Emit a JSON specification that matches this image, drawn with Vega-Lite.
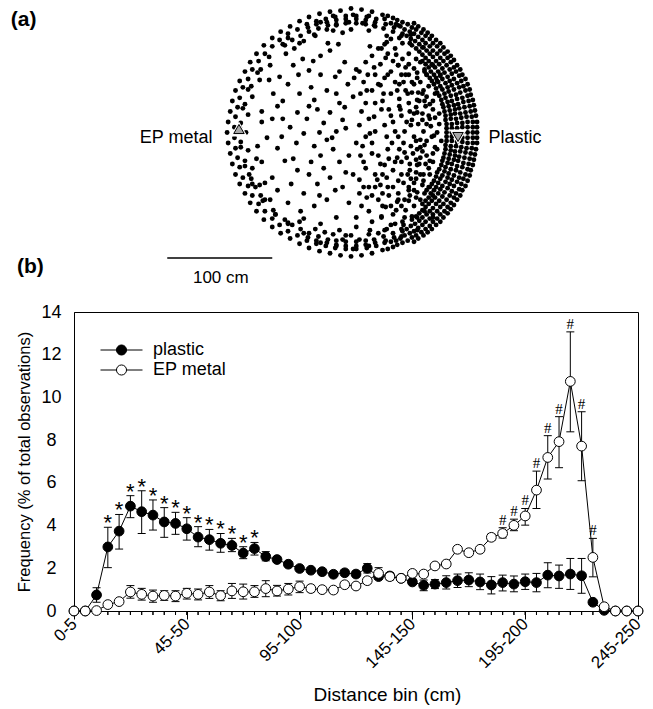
{
"$schema": "https://vega.github.io/schema/vega-lite/v6.json",
"background": "white",
"padding": {"left": 10, "top": 5, "right": 10, "bottom": 5},
"spacing": 22,
"bounds": "flush",
"config": {
  "font": "Liberation Sans",
  "view": {"stroke": "black", "strokeWidth": 1},
  "axis": {"domainColor": "black", "tickColor": "black", "labelColor": "black", "titleColor": "black", "grid": false, "domainWidth": 1, "tickWidth": 1},
  "text": {"color": "black"}
},
"datasets": {
  "tank": [
{"u":116,"v":0},{"u":116,"v":5},{"u":116,"v":-5},{"u":116,"v":10},{"u":116,"v":-10},{"u":115,"v":15},{"u":115,"v":-15},{"u":114,"v":20},{"u":114,"v":-20},{"u":113,"v":25},{"u":113,"v":-25},{"u":112,"v":30},{"u":112,"v":-30},{"u":111,"v":35},{"u":111,"v":-35},{"u":109,"v":40},{"u":109,"v":-40},{"u":107,"v":44},{"u":107,"v":-44},{"u":105,"v":49},{"u":105,"v":-49},{"u":103,"v":54},{"u":103,"v":-54},{"u":100,"v":58},{"u":100,"v":-58},{"u":98,"v":62},{"u":98,"v":-62},{"u":95,"v":67},{"u":95,"v":-67},{"u":92,"v":71},{"u":92,"v":-71},{"u":89,"v":75},{"u":89,"v":-75},{"u":85,"v":78},{"u":85,"v":-78},{"u":82,"v":82},{"u":82,"v":-82},{"u":78,"v":85},{"u":78,"v":-85},{"u":75,"v":89},{"u":75,"v":-89},{"u":71,"v":92},{"u":71,"v":-92},{"u":67,"v":95},{"u":67,"v":-95},{"u":62,"v":98},{"u":62,"v":-98},{"u":58,"v":100},{"u":58,"v":-100},{"u":54,"v":103},{"u":54,"v":-103},{"u":49,"v":105},{"u":49,"v":-105},{"u":44,"v":107},{"u":44,"v":-107},{"u":40,"v":109},{"u":40,"v":-109},{"u":35,"v":111},{"u":35,"v":-111},{"u":30,"v":112},{"u":30,"v":-112},
{"u":120,"v":0},{"u":120,"v":5},{"u":120,"v":-5},{"u":120,"v":10},{"u":120,"v":-10},{"u":119,"v":16},{"u":119,"v":-16},{"u":118,"v":21},{"u":118,"v":-21},{"u":117,"v":26},{"u":117,"v":-26},{"u":116,"v":31},{"u":116,"v":-31},{"u":114,"v":36},{"u":114,"v":-36},{"u":113,"v":41},{"u":113,"v":-41},{"u":111,"v":46},{"u":111,"v":-46},{"u":109,"v":51},{"u":109,"v":-51},{"u":106,"v":55},{"u":106,"v":-55},{"u":104,"v":60},{"u":104,"v":-60},{"u":101,"v":64},{"u":101,"v":-64},{"u":98,"v":69},{"u":98,"v":-69},{"u":95,"v":73},{"u":95,"v":-73},{"u":92,"v":77},{"u":92,"v":-77},{"u":88,"v":81},{"u":88,"v":-81},{"u":85,"v":85},{"u":85,"v":-85},{"u":81,"v":88},{"u":81,"v":-88},{"u":77,"v":92},{"u":77,"v":-92},{"u":73,"v":95},{"u":73,"v":-95},{"u":69,"v":98},{"u":69,"v":-98},{"u":64,"v":101},{"u":64,"v":-101},{"u":60,"v":104},{"u":60,"v":-104},
{"u":111,"v":0},{"u":111,"v":5},{"u":111,"v":-5},{"u":111,"v":10},{"u":111,"v":-10},{"u":110,"v":15},{"u":110,"v":-15},{"u":109,"v":19},{"u":109,"v":-19},{"u":108,"v":24},{"u":108,"v":-24},{"u":107,"v":29},{"u":107,"v":-29},{"u":106,"v":33},{"u":106,"v":-33},{"u":104,"v":38},{"u":104,"v":-38},{"u":103,"v":43},{"u":103,"v":-43},{"u":101,"v":47},{"u":101,"v":-47},{"u":98,"v":51},{"u":98,"v":-51},{"u":96,"v":56},{"u":96,"v":-56},{"u":94,"v":60},{"u":94,"v":-60},{"u":91,"v":64},{"u":91,"v":-64},{"u":88,"v":68},{"u":88,"v":-68},{"u":85,"v":71},{"u":85,"v":-71},{"u":82,"v":75},{"u":82,"v":-75},{"u":78,"v":78},{"u":78,"v":-78},{"u":75,"v":82},{"u":75,"v":-82},{"u":71,"v":85},{"u":71,"v":-85},{"u":68,"v":88},{"u":68,"v":-88},{"u":64,"v":91},{"u":64,"v":-91},{"u":60,"v":94},{"u":60,"v":-94},{"u":56,"v":96},{"u":56,"v":-96},{"u":51,"v":98},{"u":51,"v":-98},{"u":47,"v":101},{"u":47,"v":-101},{"u":43,"v":103},{"u":43,"v":-103},{"u":38,"v":104},{"u":38,"v":-104},
{"u":106,"v":0},{"u":106,"v":5},{"u":106,"v":-5},{"u":106,"v":9},{"u":106,"v":-9},{"u":105,"v":14},{"u":105,"v":-14},{"u":104,"v":18},{"u":104,"v":-18},{"u":103,"v":23},{"u":103,"v":-23},{"u":102,"v":27},{"u":102,"v":-27},{"u":101,"v":32},{"u":101,"v":-32},{"u":100,"v":36},{"u":100,"v":-36},{"u":98,"v":41},{"u":98,"v":-41},{"u":96,"v":45},{"u":96,"v":-45},{"u":94,"v":49},{"u":94,"v":-49},{"u":92,"v":53},{"u":92,"v":-53},{"u":89,"v":57},{"u":89,"v":-57},{"u":87,"v":61},{"u":87,"v":-61},{"u":84,"v":65},{"u":84,"v":-65},{"u":81,"v":68},{"u":81,"v":-68},{"u":78,"v":72},{"u":78,"v":-72},{"u":75,"v":75},{"u":75,"v":-75},{"u":72,"v":78},{"u":72,"v":-78},{"u":68,"v":81},{"u":68,"v":-81},{"u":65,"v":84},{"u":65,"v":-84},{"u":61,"v":87},{"u":61,"v":-87},{"u":57,"v":89},{"u":57,"v":-89},{"u":53,"v":92},{"u":53,"v":-92},{"u":49,"v":94},{"u":49,"v":-94},
{"u":101,"v":0},{"u":101,"v":4},{"u":101,"v":-4},{"u":101,"v":9},{"u":101,"v":-9},{"u":100,"v":13},{"u":100,"v":-13},{"u":99,"v":18},{"u":99,"v":-18},{"u":99,"v":22},{"u":99,"v":-22},{"u":98,"v":26},{"u":98,"v":-26},{"u":96,"v":30},{"u":96,"v":-30},{"u":95,"v":35},{"u":95,"v":-35},{"u":93,"v":39},{"u":93,"v":-39},{"u":92,"v":43},{"u":92,"v":-43},{"u":90,"v":47},{"u":90,"v":-47},{"u":87,"v":51},{"u":87,"v":-51},{"u":85,"v":54},{"u":85,"v":-54},{"u":83,"v":58},{"u":83,"v":-58},{"u":80,"v":62},{"u":80,"v":-62},{"u":77,"v":65},{"u":77,"v":-65},{"u":74,"v":68},{"u":74,"v":-68},{"u":71,"v":71},{"u":71,"v":-71},{"u":68,"v":74},{"u":68,"v":-74},{"u":65,"v":77},{"u":65,"v":-77},{"u":62,"v":80},{"u":62,"v":-80},{"u":58,"v":83},{"u":58,"v":-83},
{"u":96,"v":0},{"u":96,"v":4},{"u":96,"v":-4},{"u":96,"v":8},{"u":96,"v":-8},{"u":95,"v":13},{"u":95,"v":-13},{"u":95,"v":17},{"u":95,"v":-17},{"u":94,"v":21},{"u":94,"v":-21},{"u":93,"v":25},{"u":93,"v":-25},{"u":92,"v":29},{"u":92,"v":-29},{"u":90,"v":33},{"u":90,"v":-33},{"u":89,"v":37},{"u":89,"v":-37},{"u":87,"v":41},{"u":87,"v":-41},{"u":85,"v":44},{"u":85,"v":-44},{"u":83,"v":48},{"u":83,"v":-48},{"u":81,"v":52},{"u":81,"v":-52},{"u":79,"v":55},{"u":79,"v":-55},{"u":76,"v":58},{"u":76,"v":-58},{"u":74,"v":62},{"u":74,"v":-62},{"u":71,"v":65},{"u":71,"v":-65},{"u":68,"v":68},{"u":68,"v":-68},
{"u":91,"v":0},{"u":91,"v":4},{"u":91,"v":-4},{"u":91,"v":8},{"u":91,"v":-8},{"u":90,"v":12},{"u":90,"v":-12},{"u":90,"v":16},{"u":90,"v":-16},{"u":89,"v":20},{"u":89,"v":-20},{"u":88,"v":24},{"u":88,"v":-24},{"u":87,"v":27},{"u":87,"v":-27},{"u":86,"v":31},{"u":86,"v":-31},{"u":84,"v":35},{"u":84,"v":-35},{"u":82,"v":38},{"u":82,"v":-38},{"u":81,"v":42},{"u":81,"v":-42},{"u":79,"v":46},{"u":79,"v":-46},{"u":77,"v":49},{"u":77,"v":-49},{"u":75,"v":52},{"u":75,"v":-52},{"u":72,"v":55},{"u":72,"v":-55},{"u":70,"v":58},{"u":70,"v":-58},
{"u":84,"v":8},{"u":79,"v":-3},{"u":74,"v":16},{"u":70,"v":-12},{"u":78,"v":22},{"u":72,"v":34},{"u":62,"v":24},{"u":58,"v":12},{"u":60,"v":-4},{"u":66,"v":-24},{"u":74,"v":-34},{"u":62,"v":-38},{"u":56,"v":-30},{"u":50,"v":-10},{"u":52,"v":40},{"u":58,"v":48},{"u":66,"v":48},{"u":74,"v":44},{"u":60,"v":-48},{"u":68,"v":-50},{"u":48,"v":-40},{"u":44,"v":-24},{"u":40,"v":10},{"u":46,"v":32},{"u":86,"v":-8},{"u":84,"v":18},{"u":78,"v":-20},{"u":70,"v":30},{"u":64,"v":8},{"u":56,"v":20},
{"u":20,"v":115},{"u":10,"v":117},{"u":0,"v":118},{"u":-10,"v":116},{"u":-20,"v":115},{"u":-30,"v":113},{"u":-40,"v":110},{"u":-49,"v":106},{"u":-58,"v":101},{"u":-67,"v":96},{"u":-75,"v":90},{"u":-83,"v":83},{"u":-90,"v":75},{"u":-96,"v":67},{"u":-101,"v":58},{"u":-106,"v":49},{"u":-110,"v":40},{"u":-113,"v":30},{"u":-115,"v":20},{"u":-117,"v":10},{"u":-118,"v":0},{"u":-117,"v":-10},{"u":-115,"v":-20},{"u":-113,"v":-30},{"u":-110,"v":-40},{"u":-106,"v":-49},{"u":-101,"v":-58},{"u":-96,"v":-67},{"u":-90,"v":-75},{"u":-83,"v":-83},{"u":-75,"v":-90},{"u":-67,"v":-96},{"u":-58,"v":-101},{"u":-49,"v":-106},{"u":-40,"v":-110},{"u":-30,"v":-113},{"u":-20,"v":-115},{"u":-10,"v":-117},{"u":0,"v":-118},{"u":10,"v":-117},{"u":20,"v":-115},
{"u":24,"v":108},{"u":15,"v":110},{"u":5,"v":111},{"u":-5,"v":111},{"u":-15,"v":110},{"u":-24,"v":108},{"u":-33,"v":106},{"u":-42,"v":103},{"u":-51,"v":98},{"u":-60,"v":94},{"u":-68,"v":88},{"u":-75,"v":82},{"u":-82,"v":75},{"u":-88,"v":68},{"u":-94,"v":60},{"u":-98,"v":51},{"u":-103,"v":43},{"u":-106,"v":33},{"u":-108,"v":24},{"u":-110,"v":15},{"u":-111,"v":5},{"u":-111,"v":-5},{"u":-110,"v":-15},{"u":-108,"v":-24},{"u":-106,"v":-33},{"u":-103,"v":-43},{"u":-98,"v":-51},{"u":-94,"v":-60},{"u":-88,"v":-68},{"u":-82,"v":-75},{"u":-75,"v":-82},{"u":-68,"v":-88},{"u":-60,"v":-94},{"u":-51,"v":-98},{"u":-42,"v":-103},{"u":-33,"v":-106},{"u":-24,"v":-108},{"u":-15,"v":-110},{"u":-5,"v":-111},{"u":5,"v":-111},{"u":15,"v":-110},{"u":24,"v":-108},
{"u":41,"v":100},{"u":33,"v":103},{"u":23,"v":105},{"u":14,"v":107},{"u":5,"v":108},{"u":-5,"v":108},{"u":-14,"v":107},{"u":-23,"v":105},{"u":-33,"v":103},{"u":-41,"v":100},
{"u":41,"v":-100},{"u":33,"v":-103},{"u":23,"v":-105},{"u":14,"v":-107},{"u":5,"v":-108},{"u":-5,"v":-108},{"u":-14,"v":-107},{"u":-23,"v":-105},{"u":-33,"v":-103},{"u":-41,"v":-100},
{"u":48,"v":92},{"u":40,"v":96},{"u":31,"v":99},{"u":22,"v":102},{"u":14,"v":103},{"u":5,"v":104},{"u":-5,"v":104},{"u":-14,"v":103},{"u":-22,"v":102},{"u":-31,"v":99},{"u":-40,"v":96},{"u":-48,"v":92},{"u":-56,"v":88},{"u":-63,"v":83},
{"u":48,"v":-92},{"u":40,"v":-96},{"u":31,"v":-99},{"u":22,"v":-102},{"u":14,"v":-103},{"u":5,"v":-104},{"u":-5,"v":-104},{"u":-14,"v":-103},{"u":-22,"v":-102},{"u":-31,"v":-99},{"u":-40,"v":-96},{"u":-48,"v":-92},{"u":-56,"v":-88},{"u":-63,"v":-83},
{"u":49,"v":85},{"u":34,"v":92},{"u":17,"v":97},{"u":0,"v":98},{"u":-17,"v":97},{"u":-34,"v":92},{"u":-49,"v":85},
{"u":49,"v":-85},{"u":34,"v":-92},{"u":17,"v":-97},{"u":0,"v":-98},{"u":-17,"v":-97},{"u":-34,"v":-92},{"u":-49,"v":-85},
{"u":-65,"v":84},{"u":-78,"v":72},{"u":-89,"v":57},{"u":-98,"v":41},{"u":-103,"v":23},{"u":-106,"v":5},{"u":-105,"v":-14},{"u":-101,"v":-32},{"u":-94,"v":-49},{"u":-84,"v":-65},{"u":-72,"v":-78},
{"u":-77,"v":64},{"u":-87,"v":50},{"u":-94,"v":34},{"u":-98,"v":17},{"u":-100,"v":0},{"u":-98,"v":-17},{"u":-94,"v":-34},{"u":-87,"v":-50},{"u":-77,"v":-64},{"u":-86,"v":60},{"u":-95,"v":44},{"u":-101,"v":27},{"u":-105,"v":9},{"u":-105,"v":-9},{"u":-101,"v":-27},{"u":-95,"v":-44},{"u":-86,"v":-60},{"u":-74,"v":-74},{"u":-60,"v":-86},
{"u":55,"v":65},{"u":43,"v":74},{"u":29,"v":80},{"u":55,"v":55},{"u":45,"v":64},{"u":33,"v":71},{"u":55,"v":-65},{"u":43,"v":-74},{"u":29,"v":-80},{"u":55,"v":-55},{"u":45,"v":-64},{"u":33,"v":-71},{"u":63,"v":57},{"u":63,"v":-57},{"u":82,"v":0},{"u":76,"v":6},{"u":72,"v":-8},{"u":80,"v":14},{"u":80,"v":-14},{"u":75,"v":27},{"u":75,"v":-27},{"u":69,"v":40},{"u":69,"v":-40},{"u":68,"v":18},{"u":68,"v":-18},{"u":65,"v":30},{"u":65,"v":-30},
{"u":-55,"v":64},{"u":-46,"v":70},{"u":-40,"v":59},{"u":-29,"v":73},{"u":-20,"v":78},{"u":-12,"v":84},{"u":-6,"v":67},{"u":-15,"v":53},{"u":-11,"v":58},{"u":-29,"v":55},{"u":-38,"v":43},{"u":-60,"v":46},{"u":-68,"v":53},{"u":-78,"v":50},{"u":-74,"v":37},{"u":-65,"v":30},{"u":-49,"v":37},{"u":-35,"v":31},{"u":-23,"v":40},{"u":-14,"v":37},{"u":-3,"v":46},{"u":3,"v":52},{"u":8,"v":58},{"u":14,"v":67},{"u":20,"v":73},{"u":26,"v":80},{"u":32,"v":84},{"u":38,"v":89},
{"u":-75,"v":13},{"u":-65,"v":13},{"u":-51,"v":19},{"u":-42,"v":13},{"u":-32,"v":22},{"u":-26,"v":9},{"u":-20,"v":19},{"u":-11,"v":28},{"u":-6,"v":24},{"u":2,"v":34},{"u":9,"v":37},{"u":14,"v":28},{"u":20,"v":40},{"u":26,"v":46},{"u":32,"v":52},{"u":38,"v":58},{"u":45,"v":64},{"u":49,"v":70},
{"u":-89,"v":-13},{"u":-66,"v":-4},{"u":-45,"v":-1},{"u":-35,"v":-13},{"u":-23,"v":-7},{"u":-17,"v":-16},{"u":-29,"v":-22},{"u":-14,"v":1},{"u":-5,"v":4},{"u":8,"v":7},{"u":17,"v":13},{"u":23,"v":1},{"u":32,"v":7},{"u":38,"v":16},{"u":46,"v":25},{"u":54,"v":37},{"u":60,"v":46},
{"u":-85,"v":-28},{"u":-63,"v":-27},{"u":-51,"v":-36},{"u":-38,"v":-28},{"u":-26,"v":-34},{"u":-11,"v":-28},{"u":-2,"v":-22},{"u":11,"v":-13},{"u":20,"v":-10},{"u":26,"v":-22},{"u":35,"v":-16},{"u":45,"v":-4},{"u":51,"v":1},{"u":57,"v":7},{"u":63,"v":19},
{"u":-75,"v":-43},{"u":-57,"v":-49},{"u":-45,"v":-58},{"u":-32,"v":-49},{"u":-20,"v":-43},{"u":-8,"v":-52},{"u":2,"v":-40},{"u":14,"v":-34},{"u":23,"v":-40},{"u":32,"v":-31},{"u":42,"v":-28},{"u":51,"v":-19},{"u":57,"v":-13},{"u":66,"v":-7},
{"u":-60,"v":-67},{"u":-48,"v":-75},{"u":-35,"v":-70},{"u":-23,"v":-64},{"u":-14,"v":-81},{"u":-2,"v":-67},{"u":8,"v":-58},{"u":17,"v":-52},{"u":26,"v":-64},{"u":35,"v":-52},{"u":45,"v":-46},{"u":54,"v":-40},{"u":63,"v":-31},
{"u":-29,"v":-87},{"u":-11,"v":-93},{"u":5,"v":-81},{"u":17,"v":-75},{"u":29,"v":-81},{"u":38,"v":-70},{"u":51,"v":-64},{"u":60,"v":-55},{"u":69,"v":-46},
{"u":23,"v":55},{"u":31,"v":37},{"u":38,"v":37},{"u":46,"v":46},{"u":52,"v":55},{"u":60,"v":61},{"u":66,"v":67},{"u":72,"v":55},{"u":68,"v":37},{"u":63,"v":31},{"u":71,"v":25},{"u":75,"v":13},{"u":69,"v":1},{"u":77,"v":-4},{"u":63,"v":-16},{"u":72,"v":-22},{"u":78,"v":-28},{"u":66,"v":-40},{"u":74,"v":-52},{"u":60,"v":-70},{"u":51,"v":-81},{"u":42,"v":-87},{"u":66,"v":-64},{"u":75,"v":-40},{"u":82,"v":-16},{"u":80,"v":37},{"u":82,"v":49},{"u":63,"v":52},{"u":55,"v":28},{"u":48,"v":16},{"u":42,"v":1},{"u":34,"v":-4},{"u":29,"v":22},{"u":23,"v":28},{"u":18,"v":-1},{"u":14,"v":-4},{"u":9,"v":-22},{"u":23,"v":-52},{"u":34,"v":-43},{"u":45,"v":-58},{"u":55,"v":-52},{"u":63,"v":-81},{"u":32,"v":-93},{"u":18,"v":-93},
{"u":-35,"v":93},{"u":-23,"v":98},{"u":-14,"v":102},{"u":-2,"v":105},{"u":11,"v":104},{"u":23,"v":101},{"u":-45,"v":87},{"u":-54,"v":80},{"u":-60,"v":90},{"u":-29,"v":105},{"u":-17,"v":111},{"u":2,"v":112},{"u":17,"v":111},{"u":32,"v":108},{"u":45,"v":102},{"u":57,"v":93},{"u":69,"v":81},
{"u":-45,"v":-96},{"u":-29,"v":-105},{"u":-14,"v":-108},{"u":2,"v":-111},{"u":17,"v":-108},{"u":32,"v":-105},{"u":48,"v":-99},{"u":63,"v":-93},{"u":78,"v":-81},{"u":-60,"v":-87},{"u":-72,"v":-78},{"u":-82,"v":-64},{"u":-91,"v":-52},{"u":-97,"v":-40},
{"u":-85,"v":20},{"u":-80,"v":-5},{"u":-70,"v":-15},{"u":-58,"v":5},{"u":-52,"v":-10},{"u":-40,"v":25},{"u":-30,"v":0},{"u":-18,"v":-5},{"u":-8,"v":12},{"u":-70,"v":-55},{"u":-55,"v":-25},{"u":-40,"v":-40},{"u":-30,"v":-60},{"u":-15,"v":-55},{"u":-5,"v":-38},{"u":-62,"v":75},{"u":-50,"v":55},{"u":-36,"v":68},{"u":-22,"v":85},{"u":-8,"v":95},{"u":-90,"v":-25},{"u":-82,"v":-48},{"u":-70,"v":25},{"u":-45,"v":-82},{"u":-25,"v":-95},{"u":-5,"v":-98},{"u":-85,"v":10},
{"u":5,"v":60},{"u":12,"v":48},{"u":18,"v":82},{"u":28,"v":65},{"u":35,"v":75},{"u":42,"v":80},{"u":48,"v":55},{"u":55,"v":75},{"u":62,"v":70},{"u":10,"v":20},{"u":15,"v":40},{"u":22,"v":15},{"u":30,"v":30},{"u":36,"v":22},{"u":44,"v":40},{"u":50,"v":48},{"u":5,"v":-10},{"u":12,"v":-28},{"u":20,"v":-20},{"u":28,"v":-30},{"u":36,"v":-25},{"u":40,"v":-36},{"u":48,"v":-28},{"u":56,"v":-36},{"u":62,"v":-44},{"u":8,"v":-45},{"u":15,"v":-62},{"u":25,"v":-45},{"u":30,"v":-58},{"u":40,"v":-52},{"u":48,"v":-70},{"u":56,"v":-60},{"u":62,"v":-62},{"u":20,"v":-85},{"u":30,"v":-70},{"u":40,"v":-78},{"u":50,"v":-88},{"u":10,"v":-70},{"u":5,"v":-90},{"u":70,"v":-75},{"u":78,"v":-60},{"u":70,"v":60},{"u":78,"v":64},{"u":85,"v":55},
{"u":35,"v":55},{"u":42,"v":48},{"u":28,"v":45},{"u":22,"v":62},{"u":16,"v":55},{"u":40,"v":68},{"u":52,"v":62},{"u":58,"v":38},{"u":64,"v":38},{"u":47,"v":22},{"u":53,"v":10},{"u":60,"v":18},{"u":39,"v":-10},{"u":46,"v":-16},{"u":53,"v":-24},{"u":59,"v":-20},{"u":66,"v":-14},{"u":71,"v":-30},{"u":62,"v":-26},{"u":50,"v":-48},{"u":57,"v":-44},{"u":44,"v":-66},{"u":36,"v":-60},{"u":28,"v":-50},{"u":20,"v":-60},{"u":12,"v":-52},{"u":52,"v":-74},{"u":58,"v":-80},{"u":38,"v":-88},{"u":26,"v":-96},{"u":8,"v":-102},{"u":-8,"v":-102},{"u":30,"v":-40},{"u":68,"v":12},{"u":62,"v":-8},{"u":72,"v":8},{"u":78,"v":30},{"u":56,"v":85},{"u":46,"v":90},{"u":34,"v":86}
  ],
  "markers": [
    {"name": "EP metal", "u": -106.7, "v": 3.3},
    {"name": "Plastic", "u": 101.9, "v": -4.3}
  ],
  "freq": [
{"d":0,"s":"plastic","v":0,"lo":0,"hi":0,"m":""},
{"d":5,"s":"plastic","v":0,"lo":0,"hi":0,"m":""},
{"d":10,"s":"plastic","v":0.75,"lo":0.41,"hi":1.09,"m":""},
{"d":15,"s":"plastic","v":3.0,"lo":2.03,"hi":3.92,"m":"*"},
{"d":20,"s":"plastic","v":3.74,"lo":2.9,"hi":4.52,"m":"*"},
{"d":25,"s":"plastic","v":4.91,"lo":4.37,"hi":5.4,"m":"*"},
{"d":30,"s":"plastic","v":4.65,"lo":3.63,"hi":5.63,"m":"*"},
{"d":35,"s":"plastic","v":4.49,"lo":3.79,"hi":5.2,"m":"*"},
{"d":40,"s":"plastic","v":4.17,"lo":3.45,"hi":4.84,"m":"*"},
{"d":45,"s":"plastic","v":4.1,"lo":3.59,"hi":4.62,"m":"*"},
{"d":50,"s":"plastic","v":3.85,"lo":3.32,"hi":4.37,"m":"*"},
{"d":55,"s":"plastic","v":3.46,"lo":3.01,"hi":3.95,"m":"*"},
{"d":60,"s":"plastic","v":3.34,"lo":2.85,"hi":3.82,"m":"*"},
{"d":65,"s":"plastic","v":3.17,"lo":2.75,"hi":3.63,"m":"*"},
{"d":70,"s":"plastic","v":3.07,"lo":2.78,"hi":3.4,"m":"*"},
{"d":75,"s":"plastic","v":2.71,"lo":2.45,"hi":3.01,"m":"*"},
{"d":80,"s":"plastic","v":2.92,"lo":2.62,"hi":3.21,"m":"*"},
{"d":85,"s":"plastic","v":2.55,"lo":2.35,"hi":2.78,"m":""},
{"d":90,"s":"plastic","v":2.41,"lo":2.28,"hi":2.55,"m":""},
{"d":95,"s":"plastic","v":2.19,"lo":2.08,"hi":2.3,"m":""},
{"d":100,"s":"plastic","v":1.99,"lo":1.88,"hi":2.1,"m":""},
{"d":105,"s":"plastic","v":1.91,"lo":1.8,"hi":2.02,"m":""},
{"d":110,"s":"plastic","v":1.84,"lo":1.74,"hi":1.95,"m":""},
{"d":115,"s":"plastic","v":1.72,"lo":1.62,"hi":1.82,"m":""},
{"d":120,"s":"plastic","v":1.79,"lo":1.68,"hi":1.9,"m":""},
{"d":125,"s":"plastic","v":1.73,"lo":1.6,"hi":1.86,"m":""},
{"d":130,"s":"plastic","v":2.0,"lo":1.78,"hi":2.22,"m":""},
{"d":135,"s":"plastic","v":1.61,"lo":1.48,"hi":1.75,"m":""},
{"d":140,"s":"plastic","v":1.64,"lo":1.5,"hi":1.78,"m":""},
{"d":145,"s":"plastic","v":1.53,"lo":1.42,"hi":1.64,"m":""},
{"d":150,"s":"plastic","v":1.36,"lo":1.25,"hi":1.48,"m":""},
{"d":155,"s":"plastic","v":1.2,"lo":0.95,"hi":1.45,"m":""},
{"d":160,"s":"plastic","v":1.26,"lo":1.05,"hi":1.47,"m":""},
{"d":165,"s":"plastic","v":1.33,"lo":1.03,"hi":1.65,"m":""},
{"d":170,"s":"plastic","v":1.42,"lo":1.1,"hi":1.73,"m":""},
{"d":175,"s":"plastic","v":1.45,"lo":1.14,"hi":1.79,"m":""},
{"d":180,"s":"plastic","v":1.36,"lo":1.0,"hi":1.73,"m":""},
{"d":185,"s":"plastic","v":1.22,"lo":0.8,"hi":1.61,"m":""},
{"d":190,"s":"plastic","v":1.33,"lo":0.94,"hi":1.68,"m":""},
{"d":195,"s":"plastic","v":1.26,"lo":0.9,"hi":1.64,"m":""},
{"d":200,"s":"plastic","v":1.37,"lo":1.01,"hi":1.73,"m":""},
{"d":205,"s":"plastic","v":1.33,"lo":0.9,"hi":1.76,"m":""},
{"d":210,"s":"plastic","v":1.68,"lo":1.09,"hi":2.26,"m":""},
{"d":215,"s":"plastic","v":1.64,"lo":1.06,"hi":2.15,"m":""},
{"d":220,"s":"plastic","v":1.73,"lo":1.01,"hi":2.46,"m":""},
{"d":225,"s":"plastic","v":1.65,"lo":0.83,"hi":2.46,"m":""},
{"d":230,"s":"plastic","v":0.41,"lo":0.3,"hi":0.5,"m":""},
{"d":235,"s":"plastic","v":0.03,"lo":0.03,"hi":0.03,"m":""},
{"d":240,"s":"plastic","v":0,"lo":0,"hi":0,"m":""},
{"d":245,"s":"plastic","v":0,"lo":0,"hi":0,"m":""},
{"d":250,"s":"plastic","v":0,"lo":0,"hi":0,"m":""},
{"d":0,"s":"EP metal","v":0,"lo":0,"hi":0,"m":""},
{"d":5,"s":"EP metal","v":0,"lo":0,"hi":0,"m":""},
{"d":10,"s":"EP metal","v":0.02,"lo":0.02,"hi":0.02,"m":""},
{"d":15,"s":"EP metal","v":0.3,"lo":0.3,"hi":0.3,"m":""},
{"d":20,"s":"EP metal","v":0.44,"lo":0.44,"hi":0.44,"m":""},
{"d":25,"s":"EP metal","v":0.89,"lo":0.6,"hi":1.19,"m":""},
{"d":30,"s":"EP metal","v":0.78,"lo":0.51,"hi":1.06,"m":""},
{"d":35,"s":"EP metal","v":0.7,"lo":0.41,"hi":0.98,"m":""},
{"d":40,"s":"EP metal","v":0.73,"lo":0.5,"hi":0.95,"m":""},
{"d":45,"s":"EP metal","v":0.7,"lo":0.44,"hi":0.95,"m":""},
{"d":50,"s":"EP metal","v":0.83,"lo":0.56,"hi":1.06,"m":""},
{"d":55,"s":"EP metal","v":0.78,"lo":0.52,"hi":1.03,"m":""},
{"d":60,"s":"EP metal","v":0.89,"lo":0.59,"hi":1.19,"m":""},
{"d":65,"s":"EP metal","v":0.72,"lo":0.48,"hi":0.95,"m":""},
{"d":70,"s":"EP metal","v":0.94,"lo":0.59,"hi":1.29,"m":""},
{"d":75,"s":"EP metal","v":0.9,"lo":0.56,"hi":1.26,"m":""},
{"d":80,"s":"EP metal","v":0.9,"lo":0.64,"hi":1.19,"m":""},
{"d":85,"s":"EP metal","v":1.05,"lo":0.67,"hi":1.42,"m":""},
{"d":90,"s":"EP metal","v":0.94,"lo":0.7,"hi":1.2,"m":""},
{"d":95,"s":"EP metal","v":1.03,"lo":0.75,"hi":1.29,"m":""},
{"d":100,"s":"EP metal","v":1.14,"lo":0.86,"hi":1.4,"m":""},
{"d":105,"s":"EP metal","v":1.05,"lo":0.9,"hi":1.2,"m":""},
{"d":110,"s":"EP metal","v":1.0,"lo":0.88,"hi":1.12,"m":""},
{"d":115,"s":"EP metal","v":0.98,"lo":0.85,"hi":1.1,"m":""},
{"d":120,"s":"EP metal","v":1.23,"lo":1.1,"hi":1.36,"m":""},
{"d":125,"s":"EP metal","v":1.17,"lo":1.05,"hi":1.3,"m":""},
{"d":130,"s":"EP metal","v":1.42,"lo":1.28,"hi":1.55,"m":""},
{"d":135,"s":"EP metal","v":1.76,"lo":1.5,"hi":2.03,"m":""},
{"d":140,"s":"EP metal","v":1.61,"lo":1.45,"hi":1.78,"m":""},
{"d":145,"s":"EP metal","v":1.53,"lo":1.42,"hi":1.64,"m":""},
{"d":150,"s":"EP metal","v":1.76,"lo":1.65,"hi":1.88,"m":""},
{"d":155,"s":"EP metal","v":1.73,"lo":1.6,"hi":1.86,"m":""},
{"d":160,"s":"EP metal","v":2.11,"lo":2.0,"hi":2.22,"m":""},
{"d":165,"s":"EP metal","v":2.2,"lo":2.08,"hi":2.32,"m":""},
{"d":170,"s":"EP metal","v":2.89,"lo":2.78,"hi":3.0,"m":""},
{"d":175,"s":"EP metal","v":2.73,"lo":2.62,"hi":2.84,"m":""},
{"d":180,"s":"EP metal","v":2.89,"lo":2.75,"hi":3.02,"m":""},
{"d":185,"s":"EP metal","v":3.45,"lo":3.3,"hi":3.6,"m":""},
{"d":190,"s":"EP metal","v":3.63,"lo":3.42,"hi":3.9,"m":"#"},
{"d":195,"s":"EP metal","v":4.01,"lo":3.76,"hi":4.3,"m":"#"},
{"d":200,"s":"EP metal","v":4.45,"lo":4.02,"hi":4.8,"m":"#"},
{"d":205,"s":"EP metal","v":5.66,"lo":4.8,"hi":6.55,"m":"#"},
{"d":210,"s":"EP metal","v":7.19,"lo":6.18,"hi":8.21,"m":"#"},
{"d":215,"s":"EP metal","v":7.93,"lo":6.71,"hi":9.1,"m":"#"},
{"d":220,"s":"EP metal","v":10.75,"lo":8.39,"hi":13.07,"m":"#"},
{"d":225,"s":"EP metal","v":7.72,"lo":6.1,"hi":9.33,"m":"#"},
{"d":230,"s":"EP metal","v":2.51,"lo":1.6,"hi":3.4,"m":"#"},
{"d":235,"s":"EP metal","v":0.2,"lo":0.2,"hi":0.2,"m":""},
{"d":240,"s":"EP metal","v":0,"lo":0,"hi":0,"m":""},
{"d":245,"s":"EP metal","v":0,"lo":0,"hi":0,"m":""},
{"d":250,"s":"EP metal","v":0,"lo":0,"hi":0,"m":""}
  ]
},
"vconcat": [
  {
    "width": 564,
    "height": 285,
    "view": {"stroke": null},
    "layer": [
      {
        "data": {"name": "tank"},
        "mark": {"type": "circle", "size": 24, "color": "black", "opacity": 1},
        "encoding": {
          "x": {"field": "u", "type": "quantitative", "scale": {"domain": [-263.8, 273.3], "nice": false, "zero": false}, "axis": null},
          "y": {"field": "v", "type": "quantitative", "scale": {"domain": [-150, 121.4], "nice": false, "zero": false}, "axis": null}
        }
      },
      {
        "data": {"name": "markers"},
        "mark": {"type": "point", "filled": true, "color": "white", "size": 300, "opacity": 1},
        "encoding": {
          "x": {"field": "u", "type": "quantitative"},
          "y": {"field": "v", "type": "quantitative"},
          "shape": {"field": "name", "type": "nominal", "scale": {"domain": ["EP metal", "Plastic"], "range": ["triangle-up", "triangle-down"]}, "legend": null}
        }
      },
      {
        "data": {"name": "markers"},
        "mark": {"type": "point", "filled": true, "fill": "#a8a8a8", "stroke": "black", "strokeWidth": 1, "size": 110, "opacity": 1},
        "encoding": {
          "x": {"field": "u", "type": "quantitative"},
          "y": {"field": "v", "type": "quantitative"},
          "shape": {"field": "name", "type": "nominal", "scale": {"domain": ["EP metal", "Plastic"], "range": ["triangle-up", "triangle-down"]}, "legend": null}
        }
      },
      {
        "data": {"values": [{}]},
        "mark": {"type": "rule", "color": "black", "strokeWidth": 1.5},
        "encoding": {"x": {"datum": -175}, "x2": {"datum": -75}, "y": {"datum": -119.5}}
      },
      {
        "data": {"values": [{}]},
        "mark": {"type": "text", "text": "100 cm", "fontSize": 17, "align": "center", "baseline": "middle"},
        "encoding": {"x": {"datum": -124}, "y": {"datum": -138.6}}
      },
      {
        "data": {"values": [{}]},
        "mark": {"type": "text", "text": "EP metal", "fontSize": 18, "align": "right", "baseline": "middle"},
        "encoding": {"x": {"datum": -132}, "y": {"datum": -5.2}}
      },
      {
        "data": {"values": [{}]},
        "mark": {"type": "text", "text": "Plastic", "fontSize": 18, "align": "left", "baseline": "middle"},
        "encoding": {"x": {"datum": 131}, "y": {"datum": -5.2}}
      },
      {
        "data": {"values": [{}]},
        "mark": {"type": "text", "text": "(a)", "fontSize": 21, "fontWeight": "bold", "align": "left", "baseline": "middle"},
        "encoding": {"x": {"datum": -324}, "y": {"datum": 107}}
      }
    ]
  },
  {
    "width": 564,
    "height": 299,
    "title": {"text": "(b)", "anchor": "start", "frame": "bounds", "fontSize": 21, "fontWeight": "bold", "offset": 26, "color": "black"},
    "data": {"name": "freq"},
    "layer": [
      {
        "mark": {"type": "rule", "color": "black", "strokeWidth": 1},
        "encoding": {
          "x": {"field": "d", "type": "quantitative", "scale": {"domain": [0, 250], "nice": false, "zero": false},
            "axis": {
              "values": [0, 50, 100, 150, 200, 250],
              "labelExpr": "datum.value === 0 ? '0-5' : (datum.value - 5) + '-' + datum.value",
              "tickSize": 8,
              "labelAngle": -45, "labelAlign": "right", "labelBaseline": "middle", "labelFontSize": 17,
              "labelPadding": 2, "labelOverlap": false, "labelFlush": false, "labelBound": false,
              "title": "Distance bin (cm)", "titleFontSize": 19, "titleFontWeight": "normal",
              "titleX": 313, "titleY": 83, "titleAlign": "center", "titleBaseline": "middle"
            }},
          "y": {"field": "lo", "type": "quantitative", "scale": {"domain": [0, 14], "nice": false},
            "axis": {
              "values": [0,2,4,6,8,10,12,14], "ticks": false, "tickSize": 0, "labelAlign": "center", "labelPadding": 23,
              "labelFontSize": 18, "labelFlush": false,
              "title": "Frequency (% of total observations)", "titleFontSize": 16.5, "titleFontWeight": "normal", "titlePadding": 8
            }},
          "y2": {"field": "hi"}
        }
      },
      {
        "mark": {"type": "tick", "orient": "vertical", "size": 4, "thickness": 1, "color": "black", "opacity": 1, "yOffset": 2},
        "encoding": {"x": {"field": "d", "type": "quantitative"}, "y": {"datum": 0}}
      },
      {
        "mark": {"type": "tick", "orient": "horizontal", "size": 8, "thickness": 1, "color": "black", "opacity": 1},
        "encoding": {"x": {"field": "d", "type": "quantitative"}, "y": {"field": "hi", "type": "quantitative"}}
      },
      {
        "mark": {"type": "tick", "orient": "horizontal", "size": 8, "thickness": 1, "color": "black", "opacity": 1},
        "encoding": {"x": {"field": "d", "type": "quantitative"}, "y": {"field": "lo", "type": "quantitative"}}
      },
      {
        "mark": {"type": "line", "color": "black", "strokeWidth": 1},
        "encoding": {"x": {"field": "d", "type": "quantitative"}, "y": {"field": "v", "type": "quantitative"}, "detail": {"field": "s"}}
      },
      {
        "mark": {"type": "point", "shape": "circle", "size": 95, "filled": true, "stroke": "black", "strokeWidth": 1, "opacity": 1},
        "encoding": {
          "x": {"field": "d", "type": "quantitative"},
          "y": {"field": "v", "type": "quantitative"},
          "fill": {"field": "s", "type": "nominal", "scale": {"domain": ["plastic", "EP metal"], "range": ["black", "white"]},
            "legend": {"title": null, "orient": "none", "legendX": 26, "legendY": 335,
              "symbolType": "M-1,0H-0.24M0.24,0H1M0.24,0A0.24,0.24,0,1,1,-0.24,0A0.24,0.24,0,1,1,0.24,0Z",
              "symbolSize": 1764, "symbolStrokeColor": "black", "symbolStrokeWidth": 1, "symbolOpacity": 1,
              "labelFontSize": 18, "labelOffset": 10, "clipHeight": 20, "rowPadding": 0, "padding": 0, "labelColor": "black"}}
        }
      },
      {
        "transform": [{"filter": "datum.m === '*'"}],
        "mark": {"type": "text", "text": "*", "fontSize": 22, "baseline": "alphabetic", "dy": 3, "align": "center"},
        "encoding": {"x": {"field": "d", "type": "quantitative"}, "y": {"field": "hi", "type": "quantitative"}}
      },
      {
        "transform": [{"filter": "datum.m === '#'"}],
        "mark": {"type": "text", "text": "#", "fontSize": 15, "font": "Liberation Serif", "baseline": "alphabetic", "dy": -3, "align": "center"},
        "encoding": {"x": {"field": "d", "type": "quantitative"}, "y": {"field": "hi", "type": "quantitative"}}
      }
    ]
  }
]
}
